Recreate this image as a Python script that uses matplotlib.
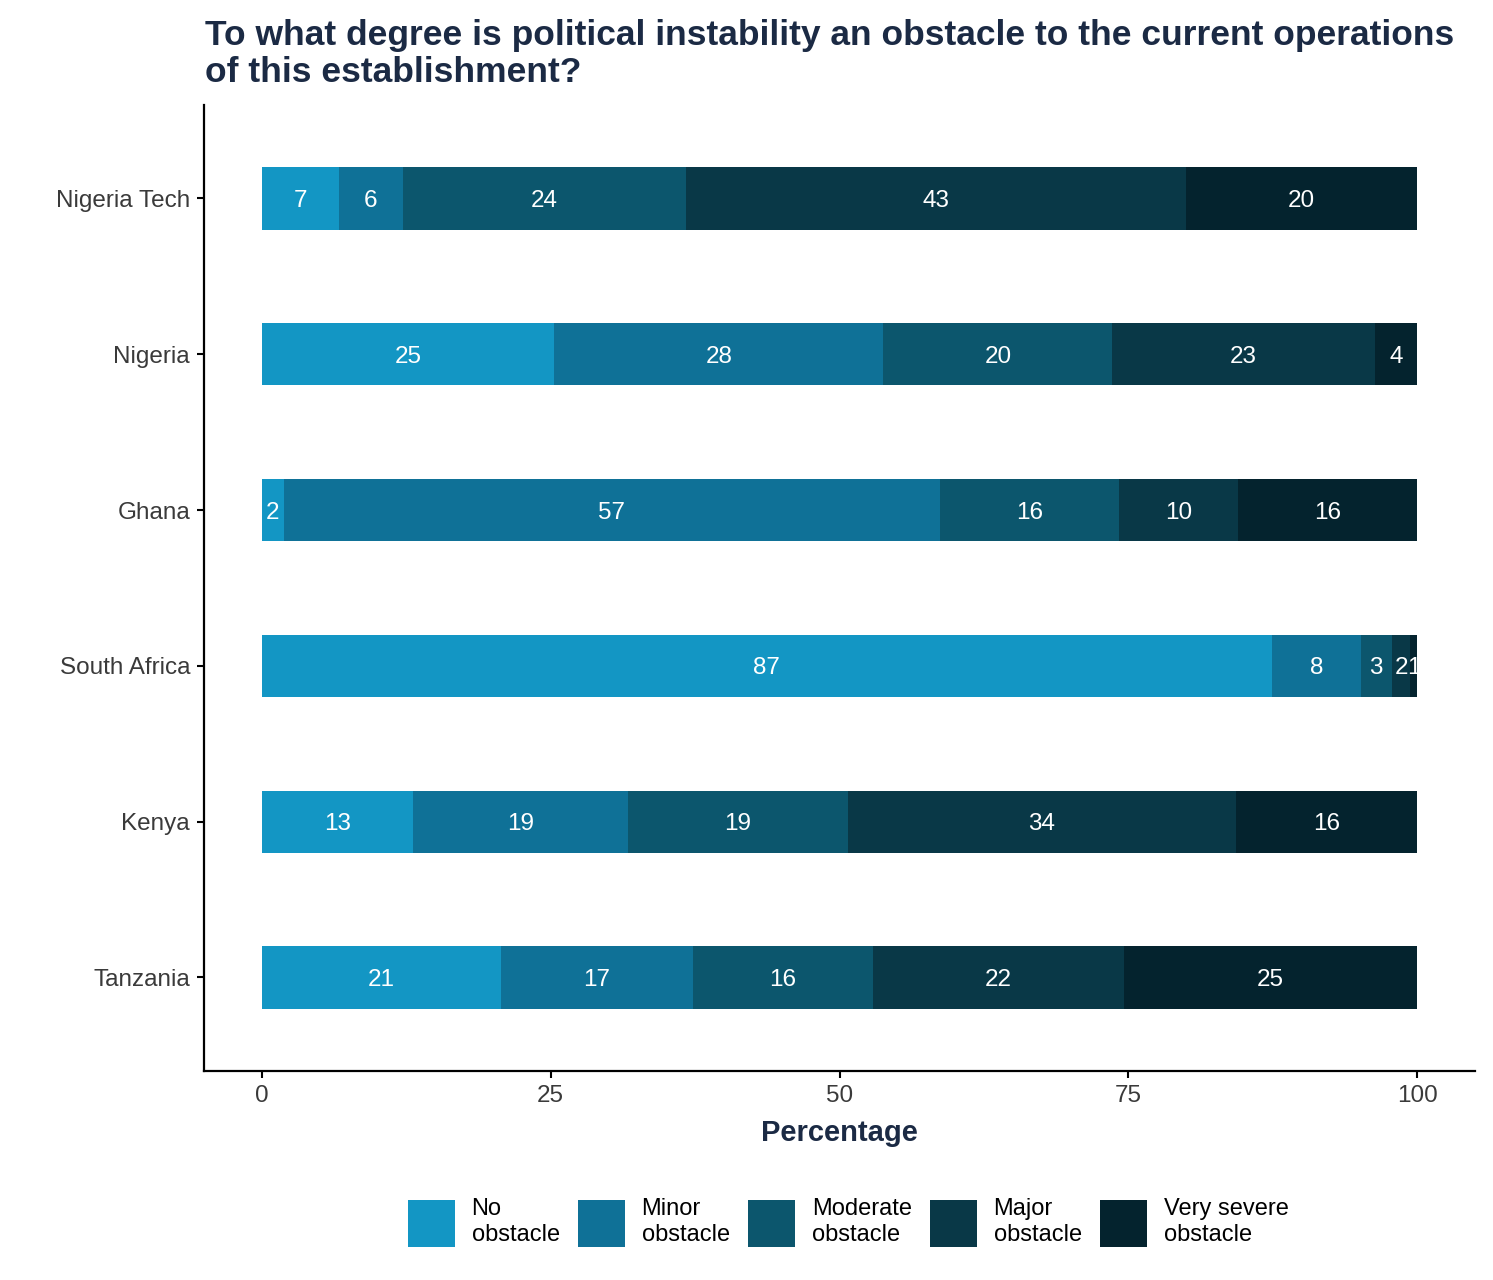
import numpy as np
import matplotlib
matplotlib.use("Agg")
import matplotlib.pyplot as plt
from matplotlib.patches import Patch

plt.rcParams['font.family'] = ['Liberation Sans', 'DejaVu Sans']

countries = ['Tanzania', 'Kenya', 'South Africa', 'Ghana', 'Nigeria', 'Nigeria Tech']
levels = ['No\nobstacle', 'Minor\nobstacle', 'Moderate\nobstacle', 'Major\nobstacle', 'Very severe\nobstacle']
colors = ['#1396c4', '#0f7197', '#0c566d', '#093847', '#04232e']

# percentages per country, in the order of levels
no_obstacle = [20.7, 13.1, 87.4, 1.9, 25.3, 6.7]
minor = [16.6, 18.6, 7.7, 56.8, 28.5, 5.5]
moderate = [15.6, 19.0, 2.7, 15.5, 19.8, 24.5]
major = [21.7, 33.6, 1.6, 10.3, 22.7, 43.3]
very_severe = [25.4, 15.7, 0.6, 15.5, 3.7, 20.0]
series = [no_obstacle, minor, moderate, major, very_severe]

title_col = '#1b2a44'

fig = plt.figure(figsize=(14.93, 12.8), dpi=100)
ax = fig.add_axes([0.1366, 0.1633, 0.8514, 0.7547])

y = np.arange(len(countries))
left = np.zeros(len(countries))
for vals, col in zip(series, colors):
    vals = np.array(vals)
    ax.barh(y, vals, left=left, height=0.4, color=col)
    for yi, l, v in zip(y, left, vals):
        ax.text(l + v / 2, yi, f"{v:.0f}", ha='center', va='center_baseline',
                color='white', fontsize=17.5)
    left += vals

ax.set_xlim(-5, 105)
ax.set_ylim(-0.6, 5.6)
ax.set_yticks(y)
ax.set_yticklabels(countries)
ax.set_xticks([0, 25, 50, 75, 100])
ax.tick_params(axis='both', labelsize=17.5, labelcolor='#3a3a3a', color='black',
               length=5, width=1.5, pad=5)
for s in ['top', 'right']:
    ax.spines[s].set_visible(False)
for s in ['left', 'bottom']:
    ax.spines[s].set_linewidth(1.6)
ax.set_xlabel('Percentage', fontsize=21, fontweight='bold', color=title_col, labelpad=9)

fig.text(0.137, 0.985, 'To what degree is political instability an obstacle to the current operations\nof this establishment?',
         ha='left', va='top', fontsize=25.5, fontweight='bold', color=title_col, linespacing=1.15)

handles = [Patch(facecolor=c, label=l) for c, l in zip(colors, levels)]
leg = fig.legend(handles=handles, loc='center', bbox_to_anchor=(0.568, 0.045), ncol=5,
                 frameon=False, fontsize=17, handlelength=1.99, handleheight=2.68,
                 columnspacing=0.76, handletextpad=0.72)
for t in leg.get_texts():
    t.set_linespacing(1.2)

fig.savefig('out.png', dpi=100)
